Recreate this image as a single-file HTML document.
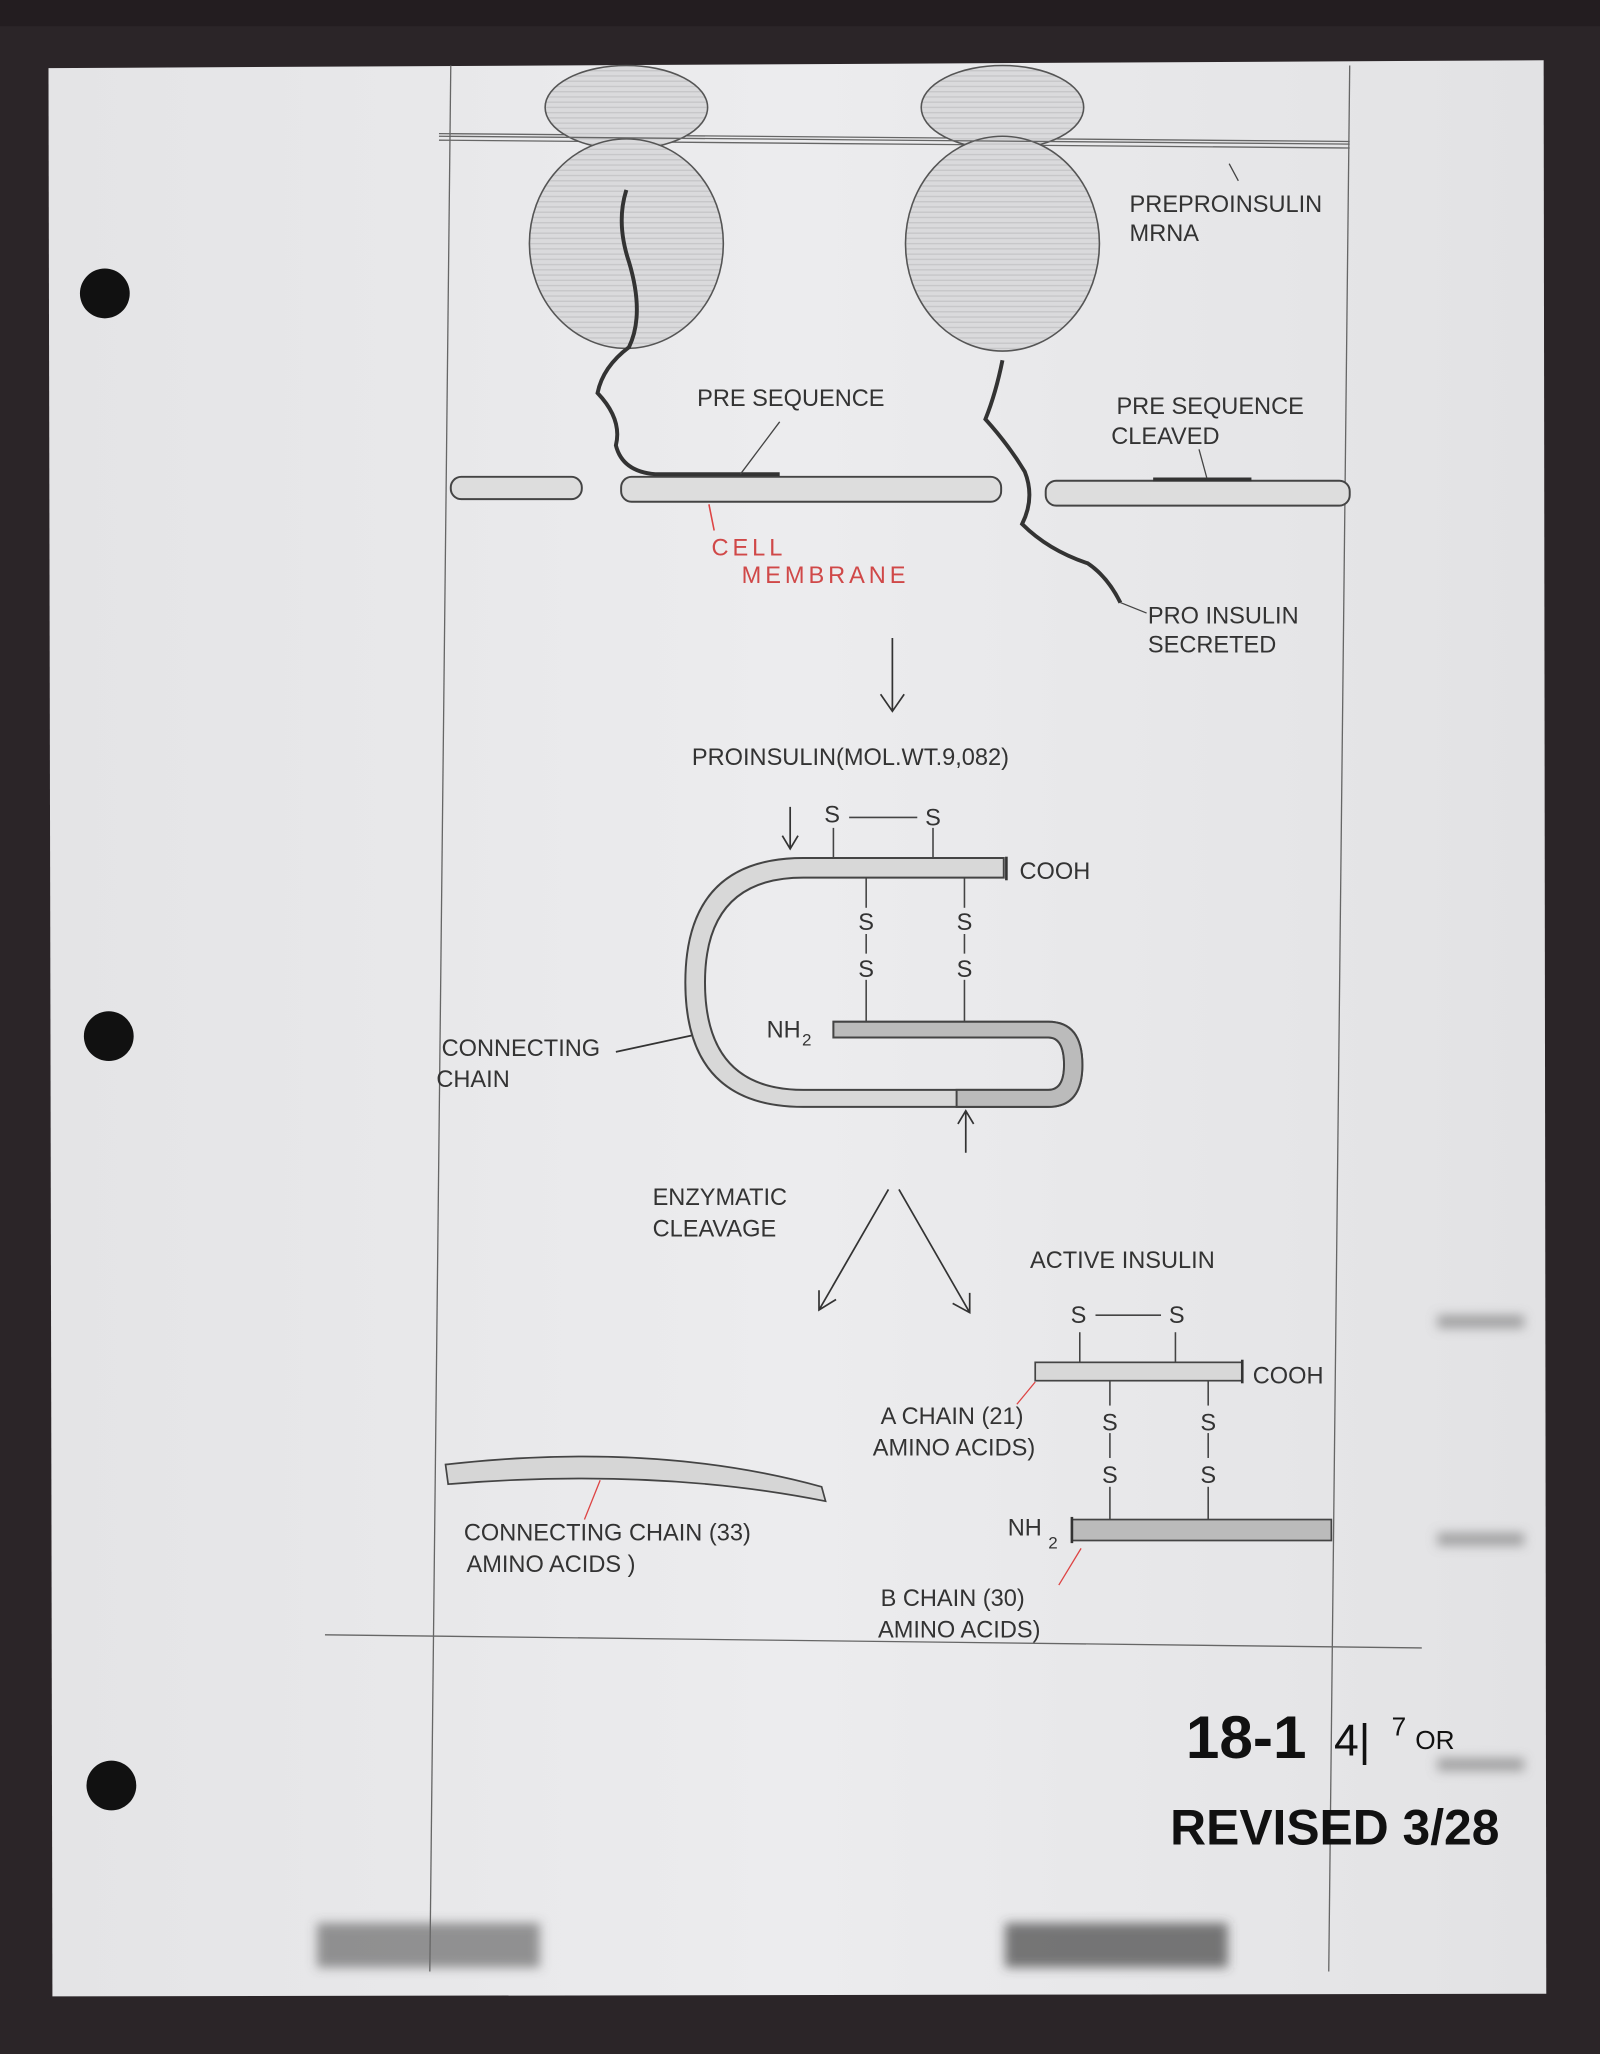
<!DOCTYPE html>
<html><head><meta charset="utf-8"><style>
html,body{margin:0;padding:0;background:#2a2427;}
svg{display:block}
text{font-family:"Liberation Sans",sans-serif;fill:#333;}
</style></head><body>
<svg width="1600" height="2054" viewBox="0 0 1221 1568" preserveAspectRatio="none" xmlns="http://www.w3.org/2000/svg">
<defs>
<linearGradient id="pg" x1="0" x2="1" y1="0" y2="0">
<stop offset="0" stop-color="#e4e4e6"/><stop offset="0.5" stop-color="#ececee"/><stop offset="1" stop-color="#e2e2e4"/>
</linearGradient>
<pattern id="hatch" width="6" height="4" patternUnits="userSpaceOnUse">
<rect width="6" height="4" fill="#dadadc"/><line x1="0" y1="2" x2="6" y2="2" stroke="#c6c6c8" stroke-width="1"/>
</pattern>
<filter id="bl"><feGaussianBlur stdDeviation="4"/></filter>
</defs>
<rect width="1221" height="1568" fill="#2b2528"/>
<rect x="0" y="0" width="1221" height="20" fill="#231d20"/>
<polygon points="37,52 1178,46 1180,1522 40,1524" fill="url(#pg)"/>
<circle cx="80" cy="224" r="19" fill="#111"/>
<circle cx="83" cy="791" r="19" fill="#111"/>
<circle cx="85" cy="1363" r="19" fill="#111"/>
<g filter="url(#bl)">
<rect x="242" y="1468" width="170" height="34" fill="#555" opacity="0.6"/>
<rect x="767" y="1468" width="170" height="34" fill="#444" opacity="0.7"/>
<rect x="1097" y="1004" width="66" height="10" fill="#777" opacity="0.6"/>
<rect x="1097" y="1170" width="66" height="10" fill="#777" opacity="0.6"/>
<rect x="1097" y="1342" width="66" height="10" fill="#777" opacity="0.6"/>
</g>
<g stroke="#666" stroke-width="1" fill="none">
<line x1="344" y1="50" x2="328" y2="1505"/>
<line x1="1030" y1="50" x2="1014" y2="1505"/>
<line x1="335" y1="102" x2="1030" y2="108"/>
<line x1="335" y1="107" x2="1030" y2="113"/>
<line x1="248" y1="1248" x2="1085" y2="1258"/>
</g>
<g stroke="#555" fill="url(#hatch)" stroke-width="1.2">
<ellipse cx="478" cy="82" rx="62" ry="32"/>
<ellipse cx="478" cy="186" rx="74" ry="80"/>
<ellipse cx="765" cy="82" rx="62" ry="32"/>
<ellipse cx="765" cy="186" rx="74" ry="82"/>
</g>
<line x1="335" y1="104" x2="1030" y2="110" stroke="#666"/>
<g stroke="#444" stroke-width="1.5" fill="#ddd">
<rect x="344" y="364" width="100" height="17" rx="8"/>
<rect x="474" y="364" width="290" height="19" rx="8"/>
<rect x="798" y="367" width="232" height="19" rx="8"/>
</g>
<g stroke="#333" stroke-width="3" fill="none">
<path d="M478,145 Q470,170 480,200 Q492,240 480,265 Q460,280 456,300 Q475,320 470,340 Q475,360 500,362 L595,362"/>
<path d="M765,275 Q760,300 752,320 Q770,340 782,360 Q790,380 780,400 Q800,420 830,430 Q845,440 855,460"/>
<line x1="880" y1="366" x2="955" y2="366"/>
</g>
<g stroke="#444" stroke-width="1" fill="none">
<line x1="565" y1="362" x2="595" y2="322"/>
<line x1="938" y1="125" x2="945" y2="138"/>
<line x1="915" y1="343" x2="921" y2="365"/>
<line x1="855" y1="460" x2="875" y2="468"/>
</g>
<line x1="541" y1="385" x2="545" y2="405" stroke="#d44" stroke-width="1.2"/>
<g font-size="18">
<text x="862" y="162">PREPROINSULIN</text>
<text x="862" y="184">MRNA</text>
<text x="532" y="310">PRE SEQUENCE</text>
<text x="852" y="316">PRE SEQUENCE</text>
<text x="848" y="339">CLEAVED</text>
<text x="876" y="476">PRO INSULIN</text>
<text x="876" y="498">SECRETED</text>
<text x="543" y="424" style="fill:#d04848;letter-spacing:3px">CELL</text>
<text x="566" y="445" style="fill:#d04848;letter-spacing:3px">MEMBRANE</text>
<text x="528" y="584">PROINSULIN(MOL.WT.9,082)</text>
<text x="778" y="671">COOH</text>
<text x="585" y="792">NH</text><text x="612" y="798" font-size="13">2</text>
<text x="337" y="806">CONNECTING</text>
<text x="333" y="830">CHAIN</text>
<text x="498" y="920">ENZYMATIC</text>
<text x="498" y="944">CLEAVAGE</text>
<text x="786" y="968">ACTIVE INSULIN</text>
<text x="956" y="1056">COOH</text>
<text x="672" y="1087">A CHAIN (21)</text>
<text x="666" y="1111">AMINO ACIDS)</text>
<text x="769" y="1172">NH</text><text x="800" y="1182" font-size="13">2</text>
<text x="354" y="1176">CONNECTING CHAIN (33)</text>
<text x="356" y="1200">AMINO ACIDS )</text>
<text x="672" y="1226">B CHAIN (30)</text>
<text x="670" y="1250">AMINO ACIDS)</text>
</g>
<g stroke="#333" stroke-width="1.3" fill="none">
<path d="M681,487 L681,543 M672,530 L681,543 L690,530"/>
<path d="M603,616 L603,648 M597,638 L603,648 L609,638"/>
<path d="M737,880 L737,848 M731,858 L737,848 L743,858"/>
<path d="M678,908 L625,1000 M625,985 L625,1000 L638,992"/>
<path d="M686,908 L740,1002 M727,995 L740,1002 L740,987"/>
<line x1="470" y1="803" x2="530" y2="790"/>
</g>
<path d="M766,655 L613,655 Q523,655 523,750 Q523,845 613,845 L800,845 Q826,845 826,813 Q826,780 800,780 L636,780 L636,792 L800,792 Q812,792 812,813 Q812,832 800,832 L613,832 Q538,832 538,750 Q538,670 613,670 L766,670 Z" fill="#d8d8d8" stroke="#444" stroke-width="1.5"/>
<path d="M636,780 L800,780 Q826,780 826,813 Q826,845 800,845 L730,845 L730,832 L800,832 Q812,832 812,813 Q812,792 800,792 L636,792 Z" fill="#bbb" stroke="#444" stroke-width="1.5"/>
<line x1="768" y1="654" x2="768" y2="672" stroke="#333" stroke-width="2"/>
<g stroke="#444" stroke-width="1.2">
<line x1="636" y1="632" x2="636" y2="655"/><line x1="712" y1="632" x2="712" y2="655"/>
<line x1="648" y1="624" x2="700" y2="624"/>
<line x1="661" y1="670" x2="661" y2="693"/><line x1="661" y1="713" x2="661" y2="728"/><line x1="661" y1="748" x2="661" y2="780"/>
<line x1="736" y1="670" x2="736" y2="693"/><line x1="736" y1="713" x2="736" y2="728"/><line x1="736" y1="748" x2="736" y2="780"/>
</g>
<g font-size="18">
<text x="629" y="628">S</text><text x="706" y="630">S</text>
<text x="655" y="710">S</text><text x="655" y="746">S</text>
<text x="730" y="710">S</text><text x="730" y="746">S</text>
</g>
<path d="M340,1118 Q500,1100 627,1135 L630,1146 Q500,1120 342,1133 Z" fill="#d6d6d6" stroke="#444" stroke-width="1.3"/>
<line x1="458" y1="1130" x2="446" y2="1160" stroke="#d44"/>
<rect x="790" y="1040" width="158" height="14" fill="#d8d8d8" stroke="#444" stroke-width="1.3"/>
<line x1="948" y1="1038" x2="948" y2="1056" stroke="#333" stroke-width="2"/>
<rect x="818" y="1160" width="198" height="16" fill="#bbb" stroke="#444" stroke-width="1.3"/>
<line x1="818" y1="1158" x2="818" y2="1178" stroke="#333" stroke-width="2"/>
<g stroke="#444" stroke-width="1.2">
<line x1="824" y1="1017" x2="824" y2="1040"/><line x1="897" y1="1017" x2="897" y2="1040"/>
<line x1="836" y1="1004" x2="886" y2="1004"/>
<line x1="847" y1="1054" x2="847" y2="1073"/><line x1="847" y1="1094" x2="847" y2="1113"/><line x1="847" y1="1135" x2="847" y2="1160"/>
<line x1="922" y1="1054" x2="922" y2="1073"/><line x1="922" y1="1094" x2="922" y2="1113"/><line x1="922" y1="1135" x2="922" y2="1160"/>
</g>
<g font-size="18">
<text x="817" y="1010">S</text><text x="892" y="1010">S</text>
<text x="841" y="1092">S</text><text x="841" y="1132">S</text>
<text x="916" y="1092">S</text><text x="916" y="1132">S</text>
</g>
<line x1="790" y1="1055" x2="776" y2="1072" stroke="#d44"/>
<line x1="825" y1="1182" x2="808" y2="1210" stroke="#d44"/>
<text x="905" y="1342" style="font-size:46px;fill:#111;font-weight:bold">18-1</text>
<text x="1018" y="1340" style="font-size:34px;fill:#111">4|</text>
<text x="1062" y="1325" style="font-size:20px;fill:#111">7</text>
<text x="1080" y="1335" style="font-size:20px;fill:#111">OR</text>
<text x="893" y="1408" style="font-size:38px;fill:#111;font-weight:bold">REVISED 3/28</text>
</svg>
</body></html>
